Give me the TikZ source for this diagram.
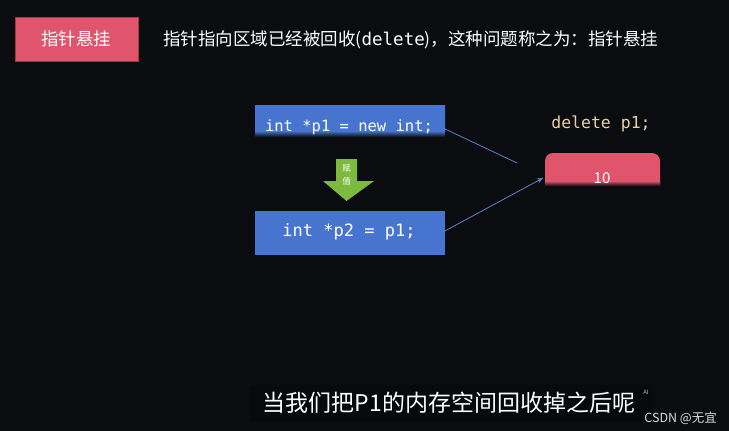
\documentclass[tikz,border=0pt]{standalone}
\usepackage{fontspec}
\setmainfont{Noto Sans CJK SC}
\newfontfamily\cjk{Noto Sans CJK SC}
\newfontfamily\codefont{DejaVu Sans Mono}
\usetikzlibrary{arrows.meta}
\definecolor{bg}{HTML}{0B0C10}
\definecolor{subbg}{HTML}{08090B}
\definecolor{redbox}{HTML}{E0556C}
\definecolor{rededge}{HTML}{A83347}
\definecolor{bluebox}{HTML}{4674CE}
\definecolor{greenarr}{HTML}{7CBA3D}
\definecolor{tan}{HTML}{E9D2A3}
\definecolor{linkblue}{HTML}{5B7FC7}
\tikzset{
  txt/.style={text=white, inner sep=0pt, anchor=center},
  code/.style={txt, font=\codefont},
  link/.style={draw=linkblue, line width=0.8pt},
}
\begin{document}
\begin{tikzpicture}[x=1pt,y=-1pt]
\fill[bg] (0,0) rectangle (729,431);
\useasboundingbox (0,0) rectangle (729,431);
% title box
\node[draw=rededge, fill=redbox, minimum width=123pt, minimum height=44pt, inner sep=0pt, line width=0.8pt] (tbox) at (76.5,39) {};
\node[txt, font=\cjk\fontsize{17.5}{20}\selectfont] (ttxt) at (tbox.center) {指针悬挂};
\node[txt, anchor=west, font=\cjk\fontsize{17.5}{20}\selectfont] (title) at (163,40) {指针指向区域已经被回收({\codefont delete})，这种问题称之为：指针悬挂};
% code box 1
\shade[top color=bluebox, bottom color=bluebox] (255,105) rectangle (445,131);
\shade[top color=bluebox, bottom color=bg] (255,131) rectangle (445,137);
\coordinate (b1e) at (443,128);
\node[code, font=\codefont\fontsize{15.5}{18}\selectfont] (c1) at (349,127) {int *p1 = new int;};
% green arrow
\fill[greenarr] (336,159) -- (357,159) -- (357,181) -- (374,181) -- (346.5,201) -- (323,181) -- (336,181) -- cycle;
\node[txt, font=\cjk\fontsize{8.5}{10}\selectfont] (fu) at (346.5,168) {赋};
\node[txt, font=\cjk\fontsize{8.5}{10}\selectfont] (zhi) at (346.5,181) {值};
% code box 2
\node[fill=bluebox, minimum width=190pt, minimum height=44pt, inner sep=0pt] (b2) at (350,233) {};
\node[code, font=\codefont\fontsize{17}{20}\selectfont] (c2) at (349,232) {int *p2 = p1;};
% delete label
\node[txt, text=tan, font=\codefont\fontsize{16.5}{20}\selectfont] (del) at (601,124) {delete p1;};
% memory box
\fill[redbox, rounded corners=8pt] (545,185) -- (545,153) -- (660,153) -- (660,185);
\fill[redbox] (545,170) rectangle (660,183);
\shade[top color=redbox!80!black, bottom color=bg] (545,182) rectangle (660,186);
\coordinate (mem) at (543,178);
\node[txt, font=\cjk\fontsize{15}{18}\selectfont] (ten) at (602,178) {10};
% connectors
\coordinate (p1end) at (517,163);
\coordinate (b2e) at (443,232);
\draw[link] (b1e) -- (p1end);
\draw[link, -{Stealth[length=6pt,width=5pt]}] (b2e) -- (mem);
% subtitle
\fill[subbg] (250,385) rectangle (652,422);
\node[txt, font=\cjk\fontsize{23}{27}\selectfont] (sub) at (449,403) {当我们把P1的内存空间回收掉之后呢};
\node[txt, text=white!70!bg, font=\cjk\fontsize{6}{7}\selectfont] (ai) at (646,392) {AI};
\node[txt, anchor=east, text=white!85!bg, font=\cjk\fontsize{12.5}{14}\selectfont] (csdn) at (717,418) {CSDN @无宜};
\end{tikzpicture}
\end{document}
